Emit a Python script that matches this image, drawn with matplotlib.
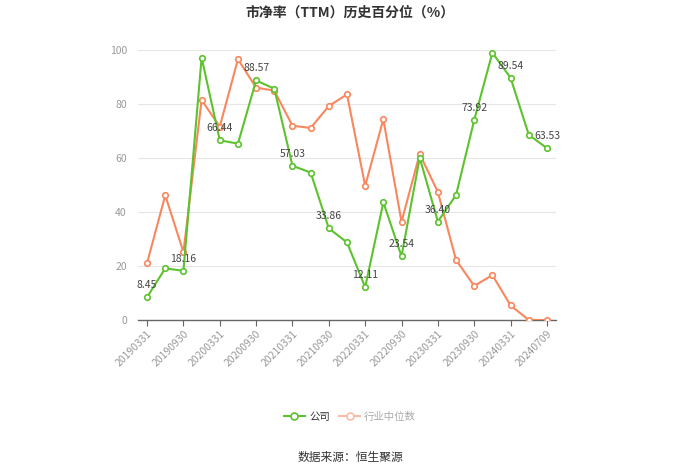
import matplotlib
matplotlib.use("Agg")
import matplotlib.pyplot as plt
from matplotlib.lines import Line2D

plt.rcParams['font.family'] = ['Noto Sans CJK SC', 'DejaVu Sans']

dates = ["20190331", "20190630", "20190930", "20191231", "20200331", "20200630",
         "20200930", "20201231", "20210331", "20210630", "20210930", "20211231",
         "20220331", "20220630", "20220930", "20221231", "20230331", "20230630",
         "20230930", "20231231", "20240331", "20240630", "20240709"]
company = [8.45, 19.1, 18.16, 97.0, 66.44, 65.2, 88.57, 85.5, 57.03, 54.5, 33.86, 28.7,
           12.11, 43.5, 23.54, 60.0, 36.40, 46.2, 73.92, 98.8, 89.54, 68.5, 63.53]
industry = [21.1, 46.1, 25.1, 81.3, 71.5, 96.4, 85.9, 84.8, 71.8, 71.0, 79.1, 83.4,
            49.6, 74.2, 36.3, 61.4, 47.3, 22.2, 12.6, 16.6, 5.4, 0.0, 0.0]
label_idx = [0, 2, 4, 6, 8, 10, 12, 14, 16, 18, 20, 22]
yticks = [0, 20, 40, 60, 80, 100]

green = "#5cc22e"
orange = "#f8875e"

fig = plt.figure(figsize=(7, 4.74), dpi=100)
ax = fig.add_axes([138/700, 1-320/474, 418/700, 270.5/474])

x = list(range(len(dates)))
ax.plot(x, industry, color=orange, lw=1.5, marker='o', ms=4, mfc='white',
        mec=orange, mew=1.2, zorder=3)
ax.plot(x, company, color=green, lw=1.5, marker='o', ms=4, mfc='white',
        mec=green, mew=1.2, zorder=4)

for i in label_idx:
    ax.annotate(f"{company[i]:.2f}", (i, company[i]), xytext=(0, 5),
                textcoords='offset points', ha='center', va='bottom',
                fontsize=7.5, color='#444444', zorder=5)

ax.set_xlim(-0.5, len(dates) - 0.5)
ax.set_ylim(0, 100)
ax.set_yticks(yticks)
ax.set_yticklabels([str(v) for v in yticks], color='#999999', fontsize=7.5)
ax.set_xticks(label_idx)
ax.set_xticklabels([dates[i] for i in label_idx], rotation=45, ha='right',
                   rotation_mode='anchor', color='#999999', fontsize=7.5)
ax.tick_params(axis='y', length=0, pad=8)
ax.tick_params(axis='x', length=4, color='#666666', pad=2)
ax.grid(axis='y', color='#e6e6e6', lw=0.8)
ax.set_axisbelow(True)
for s in ['top', 'right', 'left']:
    ax.spines[s].set_visible(False)
ax.spines['bottom'].set_color('#666666')
ax.spines['bottom'].set_linewidth(1)

fig.text(0.5, 1-13/474, "市净率（TTM）历史百分位（%）", ha='center', va='center',
         fontsize=10, fontweight='bold', color='#333333')

handles = [Line2D([0], [0], color=green, lw=1.5, marker='o', ms=5, mfc='white', mec=green, mew=1.2),
           Line2D([0], [0], color='#f9bca6', lw=1.5, marker='o', ms=5, mfc='white', mec='#f9bca6', mew=1.2)]
leg = fig.legend(handles, ["公司", "行业中位数"], loc='center', bbox_to_anchor=(0.5, 1-417/474),
                 ncol=2, frameon=False, fontsize=7.5, handlelength=2.0, columnspacing=0.9,
                 handletextpad=0.4)
leg.get_texts()[0].set_color('#333333')
leg.get_texts()[1].set_color('#aaaaaa')

fig.text(0.5, 1-457/474, "数据来源：恒生聚源", ha='center', va='center',
         fontsize=8.5, color='#333333')

fig.savefig("out.png", dpi=100)
